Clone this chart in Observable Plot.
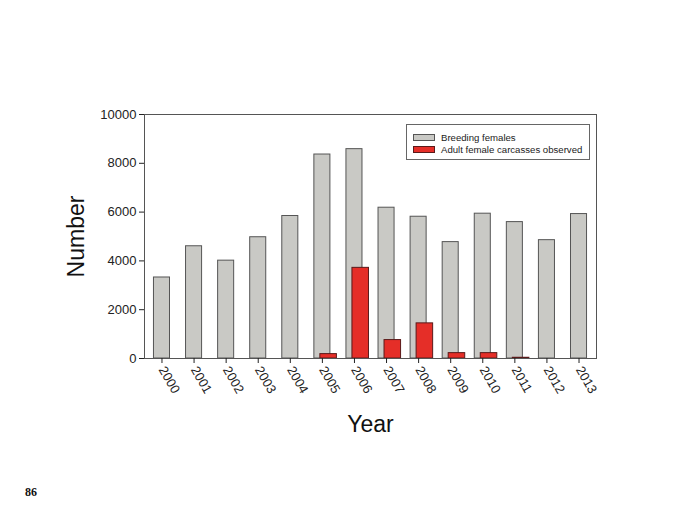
<!DOCTYPE html>
<html><head><meta charset="utf-8">
<script src="https://cdn.jsdelivr.net/npm/d3@7"></script>
<script src="https://cdn.jsdelivr.net/npm/@observablehq/plot@0.6"></script>
<style>
body{margin:0;background:#fff;}
#wrap{position:relative;width:688px;height:516px;font-family:"Liberation Sans",Arial,sans-serif;overflow:hidden;}
#wrap svg g[aria-label="y-axis label"] text,
#wrap svg g[aria-label="x-axis label"] text{font-size:23px;fill:#111;}
#legend{position:absolute;left:406px;top:124px;width:184px;height:36px;border:1px solid #666;background:#fff;box-sizing:border-box;font-size:9.6px;color:#222;}
#legend .row{position:absolute;left:6px;height:8px;display:flex;align-items:center;white-space:nowrap;}
#legend .sw{width:22px;height:7px;border:1px solid #555;box-sizing:border-box;margin-right:6px;}
#page{position:absolute;left:25px;top:485px;font-family:"Liberation Serif","Times New Roman",serif;font-weight:bold;font-size:12px;color:#111;}
</style></head><body><div id="wrap"></div>
<script>
const years = [2000, 2001, 2002, 2003, 2004, 2005, 2006, 2007, 2008, 2009, 2010, 2011, 2012, 2013];
const breeding = [3320, 4600, 4010, 4970, 5840, 8360, 8580, 6180, 5810, 4770, 5935, 5590, 4850, 5920];
const carcasses = [0, 0, 0, 0, 0, 180, 3715, 755, 1440, 220, 220, 30, 0, 0];
const yTicks = [0, 2000, 4000, 6000, 8000, 10000];
const seriesNames = ["Breeding females", "Adult female carcasses observed"];
const seriesColors = ["#c9c9c5", "#e52e28"];

const data = years.map((y, i) => ({year: String(y), breeding: breeding[i], carcasses: carcasses[i]}));

const plot = Plot.plot({
  width: 688, height: 516,
  marginLeft: 144, marginRight: 92, marginTop: 114, marginBottom: 158,
  style: {fontFamily: "'Liberation Sans', Arial, sans-serif", fontSize: "13px", color: "#222", background: "transparent"},
  x: {type: "band", domain: years.map(String), paddingInner: 0.5, paddingOuter: 0.295, round: false},
  y: {domain: [0, 10000]},
  marks: [
    Plot.barY(data, {x: "year", y: "breeding", fill: seriesColors[0], stroke: "#555", strokeWidth: 1}),
    Plot.barY(data.filter(d => d.carcasses > 0), {x: "year", y: "carcasses", fill: seriesColors[1], stroke: "#5a1a1a", strokeWidth: 1, dx: 6, insetRight: -0.5}),
    Plot.frame({stroke: "#555"}),
    Plot.axisY({ticks: yTicks, tickSize: 5, tickPadding: 3, tickFormat: d3.format("d"), label: "Number", labelAnchor: "center", labelArrow: "none", labelOffset: 77}),
    Plot.axisX({tickRotate: 60, tickSize: 5, tickPadding: 4, label: "Year", labelAnchor: "center", labelArrow: "none", labelOffset: 73})
  ]
});
const wrap = document.getElementById("wrap");
wrap.appendChild(plot);

const legend = document.createElement("div");
legend.id = "legend";
seriesNames.forEach((name, i) => {
  const row = document.createElement("div");
  row.className = "row";
  row.style.top = (i === 0 ? 8 : 20) + "px";
  const sw = document.createElement("div");
  sw.className = "sw";
  sw.style.background = seriesColors[i];
  if (i === 1) sw.style.borderColor = "#5a1a1a";
  const t = document.createElement("span");
  t.textContent = name;
  row.appendChild(sw); row.appendChild(t);
  legend.appendChild(row);
});
wrap.appendChild(legend);

const page = document.createElement("div");
page.id = "page";
page.textContent = "86";
wrap.appendChild(page);
</script>
</body></html>
